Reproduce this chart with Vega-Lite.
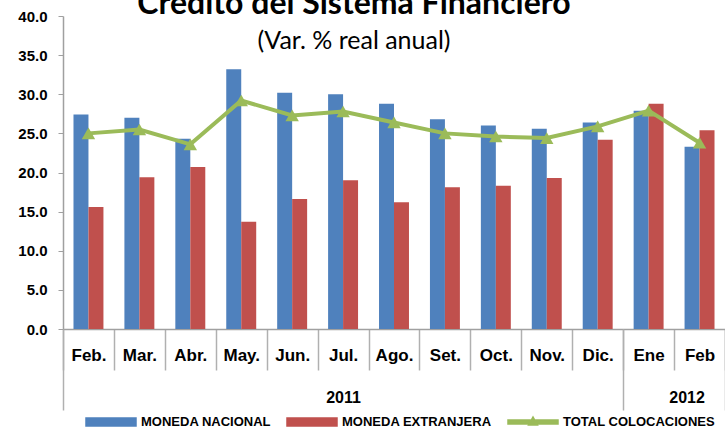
{
  "$schema": "https://vega.github.io/schema/vega-lite/v6.json",
  "width": 662,
  "height": 313,
  "autosize": {"type": "none"},
  "padding": {"left": 63, "top": 16, "right": 0, "bottom": 99},
  "background": "white",
  "config": {"view": {"stroke": null}, "axisY": {"tickCount": 8, "labelOverlap": false}},
  "title": {
    "text": "Crédito del Sistema Financiero",
    "subtitle": "(Var. % real anual)",
    "anchor": "middle",
    "frame": "group",
    "dx": -40,
    "font": "Lato",
    "fontSize": 32,
    "fontWeight": "bold",
    "color": "black",
    "subtitleFont": "Lato",
    "subtitleFontSize": 25,
    "subtitleColor": "black",
    "subtitlePadding": 8,
    "offset": -46
  },
  "data": {
    "values": [
      {"mes": "Feb.", "serie": "MONEDA NACIONAL", "valor": 27.4},
      {"mes": "Mar.", "serie": "MONEDA NACIONAL", "valor": 27.0},
      {"mes": "Abr.", "serie": "MONEDA NACIONAL", "valor": 24.3},
      {"mes": "May.", "serie": "MONEDA NACIONAL", "valor": 33.2},
      {"mes": "Jun.", "serie": "MONEDA NACIONAL", "valor": 30.2},
      {"mes": "Jul.", "serie": "MONEDA NACIONAL", "valor": 30.0},
      {"mes": "Ago.", "serie": "MONEDA NACIONAL", "valor": 28.8},
      {"mes": "Set.", "serie": "MONEDA NACIONAL", "valor": 26.8},
      {"mes": "Oct.", "serie": "MONEDA NACIONAL", "valor": 26.0},
      {"mes": "Nov.", "serie": "MONEDA NACIONAL", "valor": 25.6},
      {"mes": "Dic.", "serie": "MONEDA NACIONAL", "valor": 26.4},
      {"mes": "Ene", "serie": "MONEDA NACIONAL", "valor": 27.9},
      {"mes": "Feb", "serie": "MONEDA NACIONAL", "valor": 23.3},
      {"mes": "Feb.", "serie": "MONEDA EXTRANJERA", "valor": 15.6},
      {"mes": "Mar.", "serie": "MONEDA EXTRANJERA", "valor": 19.4},
      {"mes": "Abr.", "serie": "MONEDA EXTRANJERA", "valor": 20.7},
      {"mes": "May.", "serie": "MONEDA EXTRANJERA", "valor": 13.7},
      {"mes": "Jun.", "serie": "MONEDA EXTRANJERA", "valor": 16.6},
      {"mes": "Jul.", "serie": "MONEDA EXTRANJERA", "valor": 19.0},
      {"mes": "Ago.", "serie": "MONEDA EXTRANJERA", "valor": 16.2},
      {"mes": "Set.", "serie": "MONEDA EXTRANJERA", "valor": 18.1},
      {"mes": "Oct.", "serie": "MONEDA EXTRANJERA", "valor": 18.3},
      {"mes": "Nov.", "serie": "MONEDA EXTRANJERA", "valor": 19.3},
      {"mes": "Dic.", "serie": "MONEDA EXTRANJERA", "valor": 24.2},
      {"mes": "Ene", "serie": "MONEDA EXTRANJERA", "valor": 28.8},
      {"mes": "Feb", "serie": "MONEDA EXTRANJERA", "valor": 25.4},
      {"mes": "Feb.", "serie": "TOTAL COLOCACIONES", "valor": 25.0},
      {"mes": "Mar.", "serie": "TOTAL COLOCACIONES", "valor": 25.5},
      {"mes": "Abr.", "serie": "TOTAL COLOCACIONES", "valor": 23.6},
      {"mes": "May.", "serie": "TOTAL COLOCACIONES", "valor": 29.2},
      {"mes": "Jun.", "serie": "TOTAL COLOCACIONES", "valor": 27.3},
      {"mes": "Jul.", "serie": "TOTAL COLOCACIONES", "valor": 27.8},
      {"mes": "Ago.", "serie": "TOTAL COLOCACIONES", "valor": 26.4},
      {"mes": "Set.", "serie": "TOTAL COLOCACIONES", "valor": 25.0},
      {"mes": "Oct.", "serie": "TOTAL COLOCACIONES", "valor": 24.6},
      {"mes": "Nov.", "serie": "TOTAL COLOCACIONES", "valor": 24.4},
      {"mes": "Dic.", "serie": "TOTAL COLOCACIONES", "valor": 25.9},
      {"mes": "Ene", "serie": "TOTAL COLOCACIONES", "valor": 27.9},
      {"mes": "Feb", "serie": "TOTAL COLOCACIONES", "valor": 23.8}
    ]
  },
  "encoding": {
    "y": {
      "field": "valor",
      "type": "quantitative",
      "scale": {"domain": [0, 40], "nice": false},
      "axis": {
        "title": null,
        "tickCount": 8,
        "format": ".1f",
        "labelOverlap": false,
        "labelSeparation": 0,
        "grid": false,
        "tickSize": 5,
        "tickColor": "#A0A0A0",
        "domainColor": "#A0A0A0",
        "domainWidth": 1.5,
        "labelFont": "Liberation Sans",
        "labelFontSize": 15,
        "labelFontWeight": "bold",
        "labelColor": "black",
        "labelPadding": 11
      }
    }
  },
  "layer": [
    {
      "transform": [{"filter": "datum.serie !== 'TOTAL COLOCACIONES'"}],
      "mark": {"type": "bar"},
      "encoding": {
        "x": {
          "field": "mes",
          "type": "nominal",
          "scale": {
            "domain": ["Feb.", "Mar.", "Abr.", "May.", "Jun.", "Jul.", "Ago.", "Set.", "Oct.", "Nov.", "Dic.", "Ene", "Feb"],
            "paddingInner": 0,
            "paddingOuter": 0
          },
          "axis": {
            "title": null,
            "orient": "bottom",
            "tickBand": "extent",
            "tickSize": 41,
            "tickColor": "#B0B0B0",
            "tickWidth": 1.5,
            "domainColor": "#A0A0A0",
            "domainWidth": 1.5,
            "labelAngle": 0,
            "labelFont": "Liberation Sans",
            "labelFontSize": 17,
            "labelFontWeight": "bold",
            "labelColor": "black",
            "labelBaseline": "middle",
            "labelPadding": -15
          }
        },
        "xOffset": {
          "field": "serie",
          "type": "nominal",
          "scale": {"domain": ["MONEDA NACIONAL", "MONEDA EXTRANJERA"], "paddingInner": 0, "paddingOuter": 0.7}
        },
        "color": {
          "field": "serie",
          "type": "nominal",
          "scale": {
            "domain": ["MONEDA NACIONAL", "MONEDA EXTRANJERA", "TOTAL COLOCACIONES"],
            "range": ["#4F81BD", "#C0504D", "#9BBB59"]
          },
          "legend": {
            "title": null,
            "orient": "none",
            "direction": "horizontal",
            "legendX": 22,
            "legendY": 380,
            "padding": 0,
            "symbolSize": 2500,
            "symbolType": "M-1,-0.16L1,-0.16L1,0.16L-1,0.16Z",
            "labelFont": "Liberation Sans",
            "labelFontSize": 13,
            "labelFontWeight": "bold",
            "labelColor": "black",
            "labelLimit": 0,
            "labelOffset": 4,
            "columnPadding": 13,
            "encode": {
              "symbols": {
                "update": {
                  "shape": {"signal": "datum.value === 'TOTAL COLOCACIONES' ? 'M-1,-0.08L1,-0.08L1,0.08L-1,0.08Z M-0.18,0.12L0,-0.2L0.18,0.12Z' : 'M-1,-0.16L1,-0.16L1,0.16L-1,0.16Z'"},
                  "fill": {"scale": "color", "field": "value"},
                  "stroke": {"value": "transparent"},
                  "opacity": {"value": 1}
                }
              }
            }
          }
        }
      }
    },
    {
      "transform": [{"filter": "datum.serie === 'TOTAL COLOCACIONES'"}],
      "mark": {
        "type": "line",
        "strokeWidth": 4,
        "point": {"shape": "triangle-up", "size": 180, "filled": true, "opacity": 1}
      },
      "encoding": {
        "x": {
          "field": "mes",
          "type": "nominal",
          "axis": {
            "title": null,
            "orient": "bottom",
            "domain": false,
            "tickBand": "extent",
            "tickSize": 81,
            "tickWidth": 1.5,
            "tickColor": {
              "condition": {"test": "datum.value === 'Dic.' || datum.value === 'Feb' || datum.extra", "value": "#B0B0B0"},
              "value": "transparent"
            },
            "labelExpr": "datum.value === 'Jul.' ? '2011' : datum.value === 'Ene' ? '2012' : ''",
            "labelOffset": {"condition": {"test": "datum.value === 'Ene'", "value": 38}, "value": 0},
            "labelAngle": 0,
            "labelFont": "Liberation Sans",
            "labelFontSize": 16,
            "labelFontWeight": "bold",
            "labelColor": "black",
            "labelBaseline": "middle",
            "labelPadding": -13
          }
        },
        "color": {"field": "serie", "type": "nominal"}
      }
    }
  ],
  "resolve": {"axis": {"x": "independent"}}
}
